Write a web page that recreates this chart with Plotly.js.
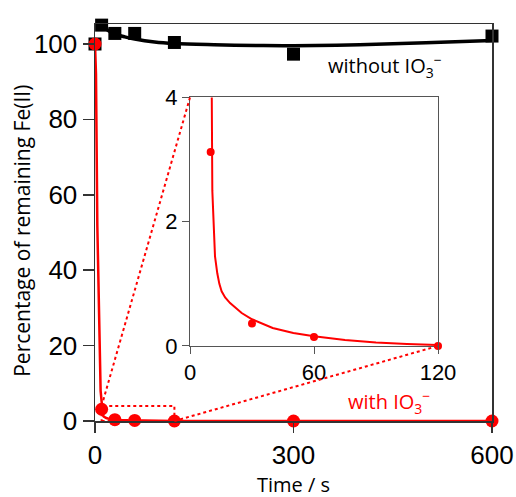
<!DOCTYPE html>
<html><head><meta charset="utf-8">
<script src="https://cdn.plot.ly/plotly-3.0.1.min.js"></script>
<style>html,body{margin:0;padding:0;background:#fff}#chart{width:516px;height:497px}</style>
</head><body><div id="chart"></div>
<script>
// Measured data (time in s, percentage of remaining Fe(II))
const timeWithout = [0, 10, 30, 60, 120, 300, 600];
const valWithout  = [100, 105, 102.8, 102.8, 100.4, 97.3, 102.1];
const timeWith    = [0, 10, 30, 60, 120, 300, 600];
const valWith     = [100, 3.12, 0.36, 0.145, 0, 0, 0];
// Fitted curves
const fitWithoutT = [10, 20, 30, 45, 60, 90, 120, 180, 250, 300, 400, 500, 600];
const fitWithoutV = [105, 103.6, 102.7, 101.9, 101.3, 100.5, 100.1, 99.8, 99.6, 99.55, 99.8, 100.3, 100.9];
const fitWithT = [0, 1.5, 3.5, 5, 6.5, 8.5, 10.5, 10.8, 11.3, 12.1, 13.2, 14.2, 15.3, 17, 19.4, 25, 30, 40, 50, 60, 75, 90, 105, 120, 300, 600];
const fitWithV = [100, 92, 52, 35, 20, 8, 4.2, 2.5, 1.97, 1.44, 1.17, 1.0, 0.88, 0.78, 0.69, 0.53, 0.43, 0.29, 0.21, 0.155, 0.095, 0.055, 0.03, 0.015, 0, 0];
const mainXTicks = [0, 300, 600];
const mainYTicks = [0, 20, 40, 60, 80, 100];
const insetXTicks = [0, 60, 120];
const insetYTicks = [0, 2, 4];
const zoomBox = {x0: 10, x1: 120, y0: 0, y1: 4};

const RED = '#ff0000';
const mainX = {range: [0, 600], domain: [0, 1]};
const mainY = {range: [0, 105.3], domain: [0, 1]};
const insX = {range: [0, 120], domain: [0.2393, 0.864]};
const insY = {range: [0, 4], domain: [0.189, 0.815]};
function toPaper(v, ax) {
  return ax.domain[0] + (v - ax.range[0]) / (ax.range[1] - ax.range[0]) * (ax.domain[1] - ax.domain[0]);
}
const insN = fitWithT.filter(t => t <= 120).length;

const traces = [
  {x: fitWithoutT, y: fitWithoutV, mode: 'lines', line: {color: '#000', width: 3.5, shape: 'spline'}, xaxis: 'x', yaxis: 'y', hoverinfo: 'skip'},
  {x: timeWithout, y: valWithout, mode: 'markers', marker: {symbol: 'square', size: 13, color: '#000'}, xaxis: 'x', yaxis: 'y', cliponaxis: false},
  {x: fitWithT, y: fitWithV, mode: 'lines', line: {color: RED, width: 2.5}, xaxis: 'x', yaxis: 'y', hoverinfo: 'skip', cliponaxis: false},
  {x: timeWith, y: valWith, mode: 'markers', marker: {symbol: 'circle', size: 13, color: RED}, xaxis: 'x', yaxis: 'y', cliponaxis: false},
  {x: fitWithT.slice(0, insN), y: fitWithV.slice(0, insN), mode: 'lines', line: {color: RED, width: 2}, xaxis: 'x2', yaxis: 'y2', hoverinfo: 'skip'},
  {x: timeWith.filter(t => t <= 120 && t > 0), y: valWith.filter((v, i) => timeWith[i] <= 120 && timeWith[i] > 0), mode: 'markers', marker: {symbol: 'circle', size: 8, color: RED}, xaxis: 'x2', yaxis: 'y2', cliponaxis: false}
];

const axCommon = {showgrid: false, zeroline: false, ticks: 'outside', showline: true, mirror: true, linecolor: '#333', tickcolor: '#333'};
const layout = {
  width: 516, height: 497,
  margin: {l: 95, r: 24, t: 24, b: 76},
  showlegend: false,
  plot_bgcolor: 'rgba(0,0,0,0)', paper_bgcolor: '#fff',
  font: {family: 'Arial, "Liberation Sans", sans-serif', color: '#000'},
  xaxis: Object.assign({}, axCommon, {range: mainX.range, domain: mainX.domain, tickvals: mainXTicks, ticklen: 10, tickwidth: 1.5, linewidth: 1.5, tickfont: {size: 26}, anchor: 'y'}),
  yaxis: Object.assign({}, axCommon, {range: mainY.range, domain: mainY.domain, tickvals: mainYTicks, ticklen: 11, tickwidth: 1.5, linewidth: 1.5, tickfont: {size: 26}, anchor: 'x'}),
  xaxis2: Object.assign({}, axCommon, {range: insX.range, domain: insX.domain, tickvals: insetXTicks, ticklen: 7, linewidth: 1, linecolor: '#555', tickcolor: '#555', tickfont: {size: 22}, anchor: 'y2'}),
  yaxis2: Object.assign({}, axCommon, {range: insY.range, domain: insY.domain, tickvals: insetYTicks, ticklen: 7, linewidth: 1, linecolor: '#555', tickcolor: '#555', tickfont: {size: 22}, anchor: 'x2'}),
  shapes: [
    {type: 'rect', xref: 'x', yref: 'y', x0: zoomBox.x0, x1: zoomBox.x1, y0: zoomBox.y0, y1: zoomBox.y1, line: {color: RED, width: 2, dash: 'dot'}, layer: 'below'},
    {type: 'line', xref: 'paper', yref: 'paper', x0: toPaper(zoomBox.x0, mainX), y0: toPaper(zoomBox.y1, mainY), x1: toPaper(insX.range[0], insX), y1: toPaper(insY.range[1], insY), line: {color: RED, width: 2, dash: 'dot'}},
    {type: 'line', xref: 'paper', yref: 'paper', x0: toPaper(zoomBox.x1, mainX), y0: toPaper(zoomBox.y0, mainY), x1: toPaper(insX.range[1], insX), y1: toPaper(insY.range[0], insY), line: {color: RED, width: 2, dash: 'dot'}}
  ],
  annotations: [
    {text: 'Time / s', xref: 'paper', yref: 'paper', x: 0.5, y: -0.121, xanchor: 'center', yanchor: 'top', showarrow: false, font: {family: '"Open Sans", sans-serif', size: 20, color: '#000'}},
    {text: 'Percentage of remaining Fe(II)', xref: 'paper', yref: 'paper', x: -0.184, y: 0.479, xanchor: 'center', yanchor: 'middle', textangle: -90, showarrow: false, font: {family: '"Open Sans", sans-serif', size: 21, color: '#000'}},
    {text: 'without IO<sub>3</sub><sup>−</sup>', xref: 'paper', yref: 'paper', x: 0.582, y: 0.893, xanchor: 'left', yanchor: 'middle', showarrow: false, font: {family: '"Open Sans", sans-serif', size: 20, color: '#000'}},
    {text: 'with IO<sub>3</sub><sup>−</sup>', xref: 'paper', yref: 'paper', x: 0.632, y: 0.047, xanchor: 'left', yanchor: 'middle', showarrow: false, font: {family: '"Open Sans", sans-serif', size: 20, color: RED}}
  ]
};
Plotly.newPlot('chart', traces, layout, {displayModeBar: false, staticPlot: true});
</script></body></html>
